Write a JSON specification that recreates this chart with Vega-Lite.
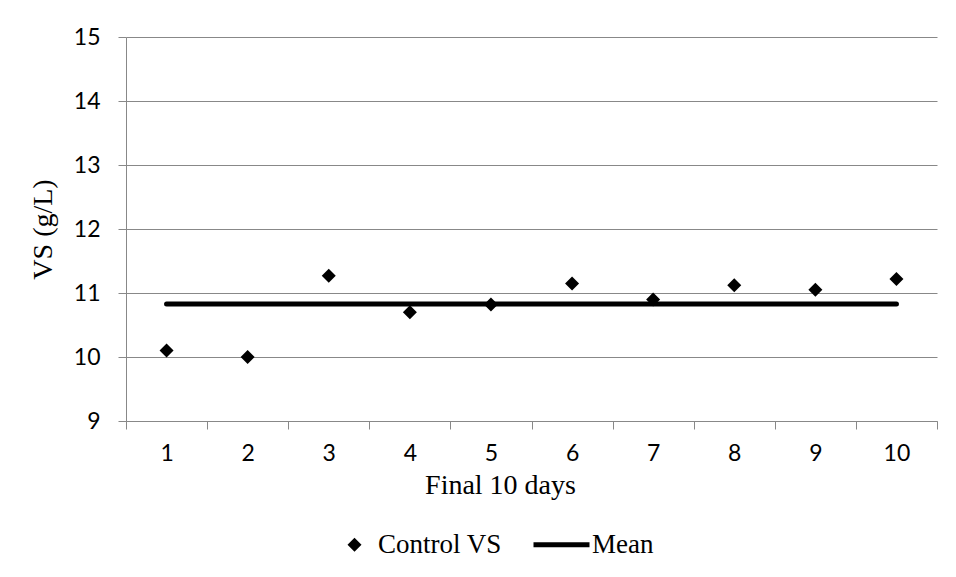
{
  "$schema": "https://vega.github.io/schema/vega-lite/v6.json",
  "width": 811,
  "height": 384,
  "autosize": "none",
  "padding": {"left": 126, "top": 37, "right": 19, "bottom": 156},
  "background": "white",
  "config": {
    "view": {"stroke": null},
    "axis": {
      "domainColor": "#888888",
      "tickColor": "#888888",
      "gridColor": "#888888",
      "tickSize": 8,
      "labelFont": "Lato",
      "labelFontSize": 23,
      "labelColor": "black",
      "titleFont": "Liberation Serif",
      "titleFontSize": 28,
      "titleFontWeight": "normal",
      "titleColor": "black"
    }
  },
  "data": {
    "values": [
      {"day": 1, "vs": 10.10, "mean": 10.83, "series": "Control VS"},
      {"day": 2, "vs": 10.00, "mean": 10.83, "series": "Control VS"},
      {"day": 3, "vs": 11.27, "mean": 10.83, "series": "Control VS"},
      {"day": 4, "vs": 10.70, "mean": 10.83, "series": "Control VS"},
      {"day": 5, "vs": 10.82, "mean": 10.83, "series": "Control VS"},
      {"day": 6, "vs": 11.15, "mean": 10.83, "series": "Control VS"},
      {"day": 7, "vs": 10.90, "mean": 10.83, "series": "Control VS"},
      {"day": 8, "vs": 11.12, "mean": 10.83, "series": "Control VS"},
      {"day": 9, "vs": 11.05, "mean": 10.83, "series": "Control VS"},
      {"day": 10, "vs": 11.22, "mean": 10.83, "series": "Control VS"}
    ]
  },
  "encoding": {
    "x": {
      "field": "day",
      "type": "ordinal",
      "scale": {"type": "band", "paddingInner": 0, "paddingOuter": 0},
      "axis": {
        "title": "Final 10 days",
        "labelAngle": 0,
        "tickBand": "extent",
        "grid": false,
        "labelPadding": 13,
        "titlePadding": 6,
        "titleX": 374,
        "titleAlign": "center"
      }
    }
  },
  "layer": [
    {
      "mark": {"type": "line", "color": "black", "strokeWidth": 5, "strokeCap": "round"},
      "encoding": {
        "y": {
          "field": "mean",
          "type": "quantitative",
          "scale": {"domain": [9, 15], "nice": false, "zero": false},
          "axis": {
            "title": "VS (g/L)",
            "values": [9, 10, 11, 12, 13, 14, 15],
            "format": "d",
            "grid": true,
            "labelPadding": 18,
            "titlePadding": 16
          }
        }
      }
    },
    {
      "mark": {"type": "point", "filled": true, "opacity": 1, "size": 196, "color": "black"},
      "encoding": {
        "y": {"field": "vs", "type": "quantitative"},
        "shape": {
          "field": "series",
          "type": "nominal",
          "scale": {
            "domain": ["Control VS", "Mean"],
            "range": ["diamond", "M-5,-0.36H3V0.36H-5Z"]
          },
          "legend": {
            "title": null,
            "orient": "none",
            "direction": "horizontal",
            "legendX": 215,
            "legendY": 494,
            "padding": 0,
            "symbolSize": 196,
            "symbolFillColor": "black",
            "symbolStrokeWidth": 0,
            "symbolOpacity": 1,
            "labelFont": "Liberation Serif",
            "labelFontSize": 27,
            "labelColor": "black",
            "labelOffset": 10,
            "columnPadding": 31,
            "labelLimit": 400
          }
        }
      }
    }
  ]
}
